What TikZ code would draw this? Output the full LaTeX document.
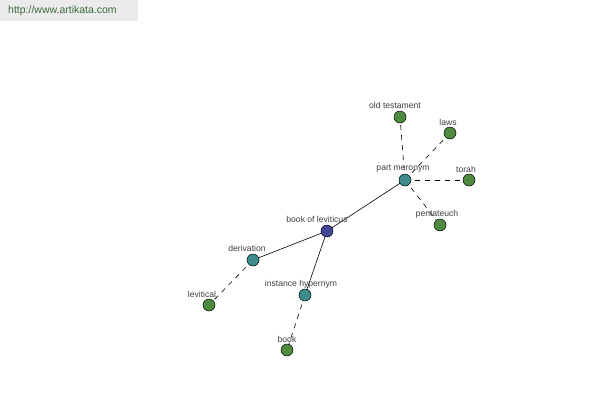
\documentclass[tikz,border=0pt]{standalone}
\usepackage{fontspec}
\setmainfont{Liberation Sans}
\definecolor{leaf}{HTML}{4E8B3E}
\definecolor{mid}{HTML}{3F8C8C}
\definecolor{root}{HTML}{45459A}
\definecolor{hdr}{HTML}{EBEBEB}
\definecolor{hdrtext}{HTML}{3C6B3C}
\definecolor{lbl}{HTML}{404040}
\begin{document}
\begin{tikzpicture}[x=1pt,y=-1pt,
  dot/.style={circle,draw=black,line width=0.5pt,minimum size=12pt,inner sep=0pt},
  lab/.style={text=lbl,font=\fontsize{8.6}{10}\selectfont,inner sep=0pt},
  solidedge/.style={line width=0.6pt},
  dashedge/.style={line width=0.6pt,dash pattern=on 5pt off 5pt}]
\useasboundingbox (0,0) rectangle (600,400);
\fill[white] (0,0) rectangle (600,400);
\fill[hdr] (0,0) rectangle (138,21);
\node[text=hdrtext,font=\fontsize{10.5}{12}\selectfont,anchor=west,inner sep=0pt] (hdrt) at (8,11) {http://www.artikata.com};
% edges first
\coordinate (pBL) at (327,231);
\coordinate (pPM) at (405,180);
\coordinate (pOT) at (400,117);
\coordinate (pLA) at (450,133);
\coordinate (pTO) at (469,180);
\coordinate (pPE) at (440,225);
\coordinate (pDE) at (253,260);
\coordinate (pLE) at (209,305);
\coordinate (pIH) at (305,295);
\coordinate (pBO) at (287,350);
\draw[solidedge] (pBL) -- (pPM);
\draw[solidedge] (pBL) -- (pDE);
\draw[solidedge] (pBL) -- (pIH);
\draw[dashedge] (pPM) -- (pOT);
\draw[dashedge] (pPM) -- (pLA);
\draw[dashedge] (pPM) -- (pTO);
\draw[dashedge] (pPM) -- (pPE);
\draw[dashedge] (pDE) -- (pLE);
\draw[dashedge] (pIH) -- (pBO);
% labels
\node[lab] (lBL) at (317,219) {book of leviticus};
\node[lab] (lPM) at (403,169) {part meronym};
\node[lab] (lOT) at (395,105) {old testament};
\node[lab] (lLA) at (448,122) {laws};
\node[lab] (lTO) at (466,169) {torah};
\node[lab] (lPE) at (437,214) {pentateuch};
\node[lab] (lDE) at (247,248) {derivation};
\node[lab] (lLE) at (202,294) {levitical};
\node[lab] (lIH) at (301,284) {instance hypernym};
\node[lab] (lBO) at (287,339) {book};
% dots
\node[dot,fill=root] (BL) at (pBL) {};
\node[dot,fill=mid] (PM) at (pPM) {};
\node[dot,fill=leaf] (OT) at (pOT) {};
\node[dot,fill=leaf] (LA) at (pLA) {};
\node[dot,fill=leaf] (TO) at (pTO) {};
\node[dot,fill=leaf] (PE) at (pPE) {};
\node[dot,fill=mid] (DE) at (pDE) {};
\node[dot,fill=leaf] (LE) at (pLE) {};
\node[dot,fill=mid] (IH) at (pIH) {};
\node[dot,fill=leaf] (BO) at (pBO) {};
\end{tikzpicture}
\end{document}
